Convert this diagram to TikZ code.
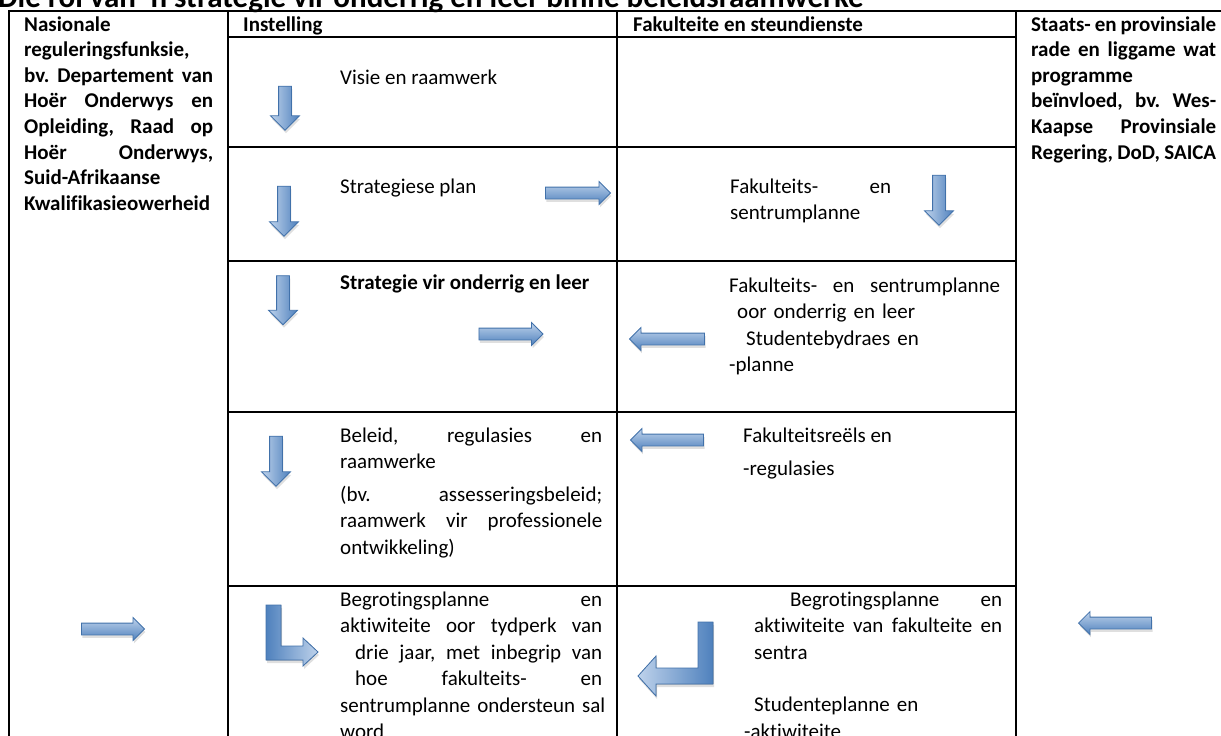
\documentclass[tikz,border=0pt]{standalone}
\usepackage{fontspec}
\setmainfont{Carlito}[Ligatures=NoCommon]
\usetikzlibrary{shapes.arrows}
\usetikzlibrary{shadows}
\definecolor{arrowdark}{RGB}{79,129,189}
\definecolor{arrowlight}{RGB}{190,210,235}
\definecolor{arrowedge}{RGB}{65,113,170}

\begin{document}
\begin{tikzpicture}[x=1pt,y=-1pt,
	grid/.style={line width=1.8pt},
	cell/.style={anchor=north west,inner sep=0pt,align=left,font=\fontsize{21}{26.5}\selectfont},
	cellb/.style={cell,font=\fontsize{21}{25.6}\selectfont\bfseries},
	blockarrow/.style={single arrow,draw=arrowedge,line width=0.8pt,inner sep=5.5pt,
		single arrow head extend=5.5pt,minimum width=22pt,
		drop shadow={shadow xshift=1pt,shadow yshift=-3pt,opacity=0.25}},
	arrowr/.style={blockarrow,top color=arrowlight,bottom color=arrowdark},
	arrowl/.style={arrowr,shape border rotate=180},
	arrowd/.style={blockarrow,left color=arrowlight,right color=arrowdark,
		shape border rotate=270,inner sep=6pt,minimum width=28pt,single arrow head extend=8pt}]
		\useasboundingbox (0,0) rectangle (1221,736);
		\clip (0,0) rectangle (1221,736);
		\node[anchor=base west,inner sep=0pt,font=\fontsize{31}{36}\selectfont\bfseries] (titel) at (-2,7) {Die rol van ’n strategie vir onderrig en leer binne beleidsraamwerke};
		\draw[grid] (1226,11) -- (9,11) -- (9,745);
		\foreach \x in {228,617,1016}
		{\draw[grid] (\x,11) -- (\x,745);}
		\foreach \y in {37,147,261,412,586}
		{\draw[grid] (228,\y) -- (1016,\y);}
		\node[cellb] (instelling) at (243,13) {\strut Instelling};
		\node[cellb] (fakulteite) at (633,13) {\strut Fakulteite en steundienste};
		\node[cellb,text width=189pt] (nasionaal) at (24,13) {\strut Nasionale\\ reguleringsfunksie,\\ bv.\hfill Departement\hfill van\\ Hoër\hfill Onderwys\hfill en\\ Opleiding,\hfill Raad\hfill op\\ Hoër\hfill Onderwys,\\ Suid-Afrikaanse\\ Kwalifikasieowerheid};
		\node[cellb,text width=185pt] (staat) at (1031,13) {\strut Staats-\hfill en\hfill provinsiale\\ rade\hfill en\hfill liggame\hfill wat\\ programme\\ beïnvloed,\hfill bv.\hfill Wes-\\ Kaapse\hfill Provinsiale\\ Regering,\hfill DoD,\hfill SAICA};
		\node[cell] (visie) at (340,65.5) {\strut Visie en raamwerk};
		\node[cell] (strategie) at (340,174.5) {\strut Strategiese plan};
		\node[cell,text width=161pt] (fakplan) at (730,174.5) {\strut Fakulteits-\hfill en\\ sentrumplanne};
		\node[cellb] (onderrig) at (340,271) {\strut Strategie vir onderrig en leer};
		\node[cell,text width=271pt] (fakonderrig) at (729,273.5) {\strut Fakulteits-\hfill en\hfill sentrumplanne\\ \hspace*{8pt}oor onderrig en leer\\ \hspace*{17pt}Studentebydraes en\\ -planne};
		\node[cell,text width=262pt] (beleid) at (340,423.5) {\strut Beleid,\hfill regulasies\hfill en\\ raamwerke\\[6pt] (bv.\hfill assesseringsbeleid;\\ raamwerk\hfill vir\hfill professionele\\ ontwikkeling)};
		\node[cell] (reels) at (743,423.5) {\strut Fakulteitsreëls en\\[7pt] -regulasies};
		\node[cell,text width=262pt] (begroting) at (340,587.5) {\strut Begrotingsplanne\hfill en\\ aktiwiteite\hfill oor\hfill tydperk\hfill van\\ \hspace*{15pt}drie\hfill jaar,\hfill met\hfill inbegrip\hfill van\\ \hspace*{15pt}hoe\hfill fakulteits-\hfill en\\ \mbox{sentrumplanne ondersteun sal}\\ word};
		\node[cell,text width=248pt] (begrotingfak) at (754,587.5) {\strut\hspace*{36pt}Begrotingsplanne\hfill en\\ aktiwiteite\hfill van\hfill fakulteite\hfill en\\ sentra\\[26pt] Studenteplanne en\\ \hspace*{-10pt}-aktiwiteite};
		\foreach \n/\x/\y/\l in {visie/285/105/44,strategie/284/208/50,fakplan/939/197/50,onderrig/283/297/49,beleid/276/458/50}
		{\node[arrowd,minimum height=\l pt] (down\n) at (\x,\y) {};}
		\node[arrowr,minimum height=65pt] (na-fak) at (575,193) {};
		\node[arrowr,minimum height=64pt] (na-onderrig) at (508,334) {};
		\node[arrowr,minimum height=63pt] (uit-nasionaal) at (110,629) {};
		\node[arrowl,minimum height=75pt] (terug-onderrig) at (670,339) {};
		\node[arrowl,minimum height=73pt] (terug-beleid) at (670,440) {};
		\node[arrowl,minimum height=73pt] (uit-staat) at (1118,623) {};
		\filldraw[draw=arrowedge,line width=0.8pt,left color=arrowdark,right color=arrowlight,drop shadow={shadow xshift=1pt,shadow yshift=-3pt,opacity=0.25}]
		(266,605) -- (281,605) -- (281,646) -- (303,646) -- (303,638) -- (318,652) -- (303,666) -- (303,660) -- (266,660) -- cycle;
		\filldraw[draw=arrowedge,line width=0.8pt,left color=arrowlight,right color=arrowdark,drop shadow={shadow xshift=1pt,shadow yshift=-3pt,opacity=0.25}]
		(698,622) -- (713,622) -- (713,684) -- (656,684) -- (656,696) -- (638,676) -- (656,656) -- (656,668) -- (698,668) -- cycle;
	   \end{tikzpicture}
\end{document}
